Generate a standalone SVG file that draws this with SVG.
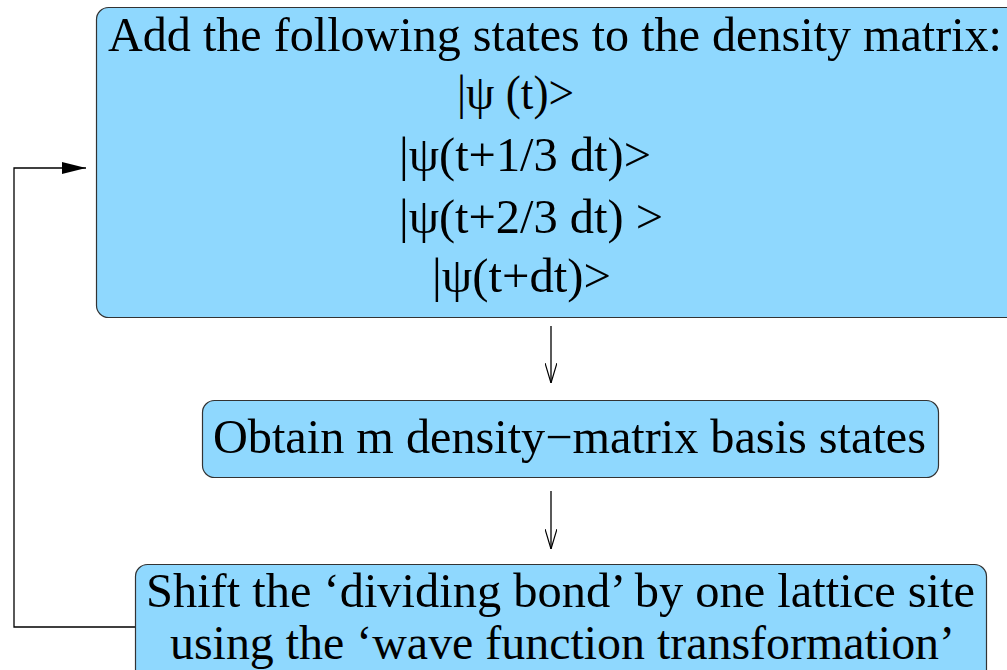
<svg xmlns="http://www.w3.org/2000/svg" width="1007" height="670" viewBox="0 0 1007 670">
<style>
.box{fill:#8fd8fe;stroke:#333;stroke-width:1.2}
text{font-family:"Liberation Serif","Times New Roman",serif;font-size:48px;fill:#000}
.c{stroke:#000;stroke-width:1.3;fill:none}
</style>
<defs>
<marker id="fa" markerWidth="24" markerHeight="12" refX="24" refY="6" orient="auto" markerUnits="userSpaceOnUse"><path d="M0,0 L24,6 L0,12 Z" fill="#000"/></marker>
<marker id="oa" markerWidth="12" markerHeight="20" refX="6" refY="20" orient="0" markerUnits="userSpaceOnUse"><path d="M0,0 L6,20 L12,0" fill="none" stroke="#000" stroke-width="1.2"/></marker>
</defs>
<g id="connectors">
<path class="c" d="M135,627 H14 V168 H86" marker-end="url(#fa)"/>
<path class="c" d="M551,326 V383" marker-end="url(#oa)"/>
<path class="c" d="M551,491 V549" marker-end="url(#oa)"/>
</g>
<g id="n1">
<rect class="box" x="96.5" y="7.5" width="930" height="310" rx="12"/>
<text x="108" y="51" textLength="894" lengthAdjust="spacingAndGlyphs">Add the following states to the density matrix:</text>
<text x="457" y="109" textLength="117" lengthAdjust="spacingAndGlyphs">|ψ (t)&gt;</text>
<text x="399" y="171" textLength="252" lengthAdjust="spacingAndGlyphs">|ψ(t+1/3 dt)&gt;</text>
<text x="399" y="233" textLength="264" lengthAdjust="spacingAndGlyphs">|ψ(t+2/3 dt) &gt;</text>
<text x="432" y="292" textLength="179" lengthAdjust="spacingAndGlyphs">|ψ(t+dt)&gt;</text>
</g>
<g id="n2">
<rect class="box" x="202.5" y="400.5" width="736" height="77" rx="12"/>
<text x="213" y="453" textLength="713" lengthAdjust="spacingAndGlyphs">Obtain m density−matrix basis states</text>
</g>
<g id="n3">
<rect class="box" x="135.5" y="564.5" width="851" height="130" rx="12"/>
<text x="146" y="607" textLength="829" lengthAdjust="spacingAndGlyphs">Shift the ‘dividing bond’ by one lattice site</text>
<text x="170" y="659" textLength="785" lengthAdjust="spacingAndGlyphs">using the ‘wave function transformation’</text>
</g>
</svg>
